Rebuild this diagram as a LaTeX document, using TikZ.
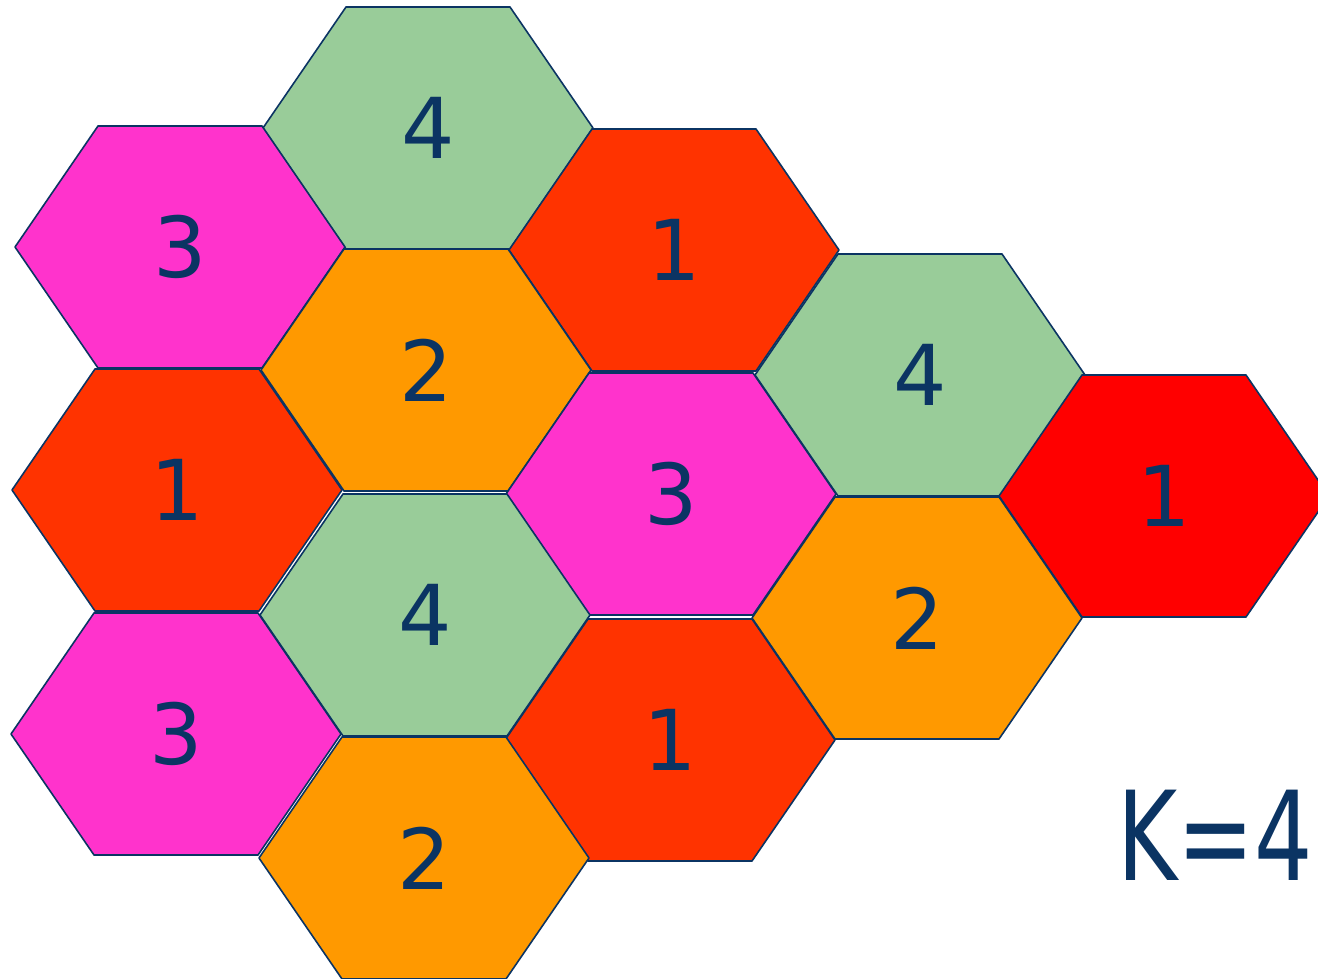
\documentclass[tikz,border=0pt]{standalone}
\usepackage{fontspec}
\setmainfont{DejaVu Sans}
\definecolor{navy}{HTML}{0B3463}
\definecolor{hgreen}{HTML}{99CC99}
\definecolor{hpink}{HTML}{FF33CC}
\definecolor{horred}{HTML}{FF3300}
\definecolor{horange}{HTML}{FF9900}
\definecolor{hred}{HTML}{FF0000}
\tikzset{
  hexline/.style={draw=navy, line width=1.6pt, line join=round},
  digit/.style={text=navy, font=\fontsize{84}{84}\selectfont, inner sep=0pt},
}
\newcommand{\hexat}[5]{%
  \fill[#3] (#1-165,#2) -- (#1-82,#2-121) -- (#1+82,#2-121) -- (#1+165,#2) -- (#1+82,#2+121) -- (#1-82,#2+121) -- cycle;
  \draw[hexline] (#1-165,#2) -- (#1-82,#2-121) -- (#1+82,#2-121) -- (#1+165,#2) -- (#1+82,#2+121) -- (#1-82,#2+121) -- cycle;
  \node[digit] (#5) at (#1,#2) {#4};
}
\begin{document}
\begin{tikzpicture}[x=1pt,y=-1pt]
\useasboundingbox (0,0) rectangle (1318,979);
\hexat{428}{128}{hgreen}{4}{gA}
\hexat{180}{247}{hpink}{3}{pA}
\hexat{674}{250}{horred}{1}{rA}
\hexat{426}{370}{horange}{2}{oA}
\hexat{920}{375}{hgreen}{4}{gB}
\hexat{1164}{496}{hred}{1}{RR}
\hexat{177}{490}{horred}{1}{rB}
\hexat{671}{494}{hpink}{3}{pB}
\hexat{425}{615}{hgreen}{4}{gC}
\hexat{917}{618}{horange}{2}{oB}
\hexat{176}{734}{hpink}{3}{pC}
\hexat{670}{740}{horred}{1}{rC}
\hexat{424}{858}{horange}{2}{oC}
\node[text=navy, font=\fontsize{124}{124}\selectfont, inner sep=0pt] (K) at (1215,835) {\scalebox{0.74}[1]{K=4}};
\end{tikzpicture}
\end{document}
